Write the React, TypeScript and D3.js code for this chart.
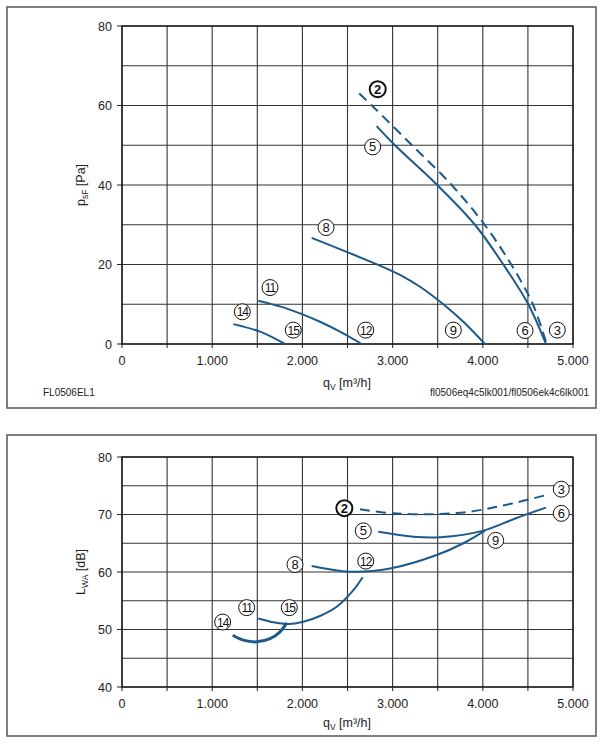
import * as d3 from 'd3';
import React from 'react';

const BLUE = '#1d5a8c';

// volume flow qV [m³/h]
const flowGrid = [0, 500, 1000, 1500, 2000, 2500, 3000, 3500, 4000, 4500, 5000];
const flowTicks = [0, 1000, 2000, 3000, 4000, 5000];
const flowTickLabels = ['0', '1.000', '2.000', '3.000', '4.000', '5.000'];

// static pressure psF [Pa]
const psfGrid = [0, 10, 20, 30, 40, 50, 60, 70, 80];
const psfTicks = [0, 20, 40, 60, 80];

const psf2Flow = [2630, 2770, 3215, 3655, 4020, 4315, 4555, 4708];
const psf2 = [63, 60, 50, 40, 30, 20, 10, 0];
const psf5Flow = [2823, 3026, 3495, 3913, 4227, 4504, 4700];
const psf5 = [54.8, 50, 40, 30, 20, 10, 0];
const psf8Flow = [2103, 2509, 2860, 3082, 3304, 3562, 3784, 4024];
const psf8 = [26.7, 23.0, 19.7, 17.4, 14.4, 10.0, 5.6, 0];
const psf11Flow = [1511, 1760, 1973, 2195, 2417, 2657];
const psf11 = [10.9, 9.4, 7.7, 5.6, 3.1, 0];
const psf14Flow = [1234, 1530, 1807];
const psf14 = [5.0, 3.1, 0];

// operating point markers on the pressure chart
const psfMarkerIds = ['2', '5', '8', '11', '14', '15', '12', '9', '6', '3'];
const psfMarkerFlow = [2835, 2779, 2262, 1641, 1334, 1899, 2702, 3673, 4468, 4826];
const psfMarkerVal = [64.1, 49.6, 29.3, 14.2, 8.1, 3.5, 3.5, 3.5, 3.4, 3.5];

// sound power LWA [dB]
const lwaGrid = [40, 45, 50, 55, 60, 65, 70, 75, 80];
const lwaTicks = [40, 50, 60, 70, 80];

const lwa2Flow = [2638, 3008, 3415, 3858, 4264, 4708];
const lwa2 = [70.9, 70.2, 70.05, 70.5, 71.7, 73.4];
const lwa5Flow = [2842, 3230, 3527, 4006, 4375, 4700];
const lwa5 = [67.0, 66.15, 66.05, 67.2, 69.4, 71.2];
const lwa8Flow = [2103, 2528, 2971, 3489, 3784, 4024];
const lwa8 = [61.05, 60.05, 60.6, 62.95, 65.0, 67.2];
const lwa11Flow = [1511, 1677, 1843, 2010, 2195, 2380, 2565, 2668];
const lwa11 = [51.9, 51.25, 50.95, 51.35, 52.35, 53.95, 56.85, 59.1];
const lwa14Flow = [1227, 1345, 1493, 1641, 1752, 1826];
const lwa14 = [49.0, 48.15, 47.85, 48.4, 49.6, 51.15];

const lwaMarkerIds = ['2', '3', '6', '5', '9', '12', '8', '11', '15', '14'];
const lwaMarkerFlow = [2465, 4870, 4870, 2675, 4143, 2702, 1918, 1382, 1855, 1116];
const lwaMarkerVal = [71.1, 74.4, 70.2, 67.15, 65.5, 61.9, 61.3, 53.8, 53.8, 51.3];

type Curve = { flow: number[]; val: number[]; dashed?: boolean; width?: number };
type Rect = { left: number; right: number; top: number; bottom: number };

function Panel({
  frame,
  plot,
  yDomain,
  yGrid,
  yTicks,
  curves,
  markerIds,
  markerFlow,
  markerVal,
  yTitle,
  titleOffset,
  footnotes,
}: {
  frame: Rect;
  plot: Rect;
  yDomain: [number, number];
  yGrid: number[];
  yTicks: number[];
  curves: Curve[];
  markerIds: string[];
  markerFlow: number[];
  markerVal: number[];
  yTitle: [string, string, string];
  titleOffset: number;
  footnotes?: [string, string];
}) {
  const x = d3.scaleLinear().domain([0, 5000]).range([plot.left, plot.right]);
  const y = d3.scaleLinear().domain(yDomain).range([plot.bottom, plot.top]);
  const line = d3
    .line<[number, number]>()
    .x((d) => x(d[0]))
    .y((d) => y(d[1]))
    .curve(d3.curveCatmullRom.alpha(0.5));
  const yMid = (plot.top + plot.bottom) / 2;

  return (
    <g>
      <rect
        x={frame.left}
        y={frame.top}
        width={frame.right - frame.left}
        height={frame.bottom - frame.top}
        fill="none"
        stroke="#555"
        strokeWidth={1.5}
      />

      {/* grid, with the x ticks poking below the axis */}
      {flowGrid.map((v) => (
        <line key={'gx' + v} x1={x(v)} x2={x(v)} y1={plot.top} y2={plot.bottom + 4} stroke="#333" strokeWidth={1.1} />
      ))}
      {yGrid.map((v) => (
        <line key={'gy' + v} x1={plot.left} x2={plot.right} y1={y(v)} y2={y(v)} stroke="#333" strokeWidth={1.1} />
      ))}
      {yTicks.map((v) => (
        <line key={'ty' + v} x1={plot.left - 5} x2={plot.left} y1={y(v)} y2={y(v)} stroke="#222" strokeWidth={1} />
      ))}
      <rect
        x={plot.left}
        y={plot.top}
        width={plot.right - plot.left}
        height={plot.bottom - plot.top}
        fill="none"
        stroke="#111"
        strokeWidth={1.3}
      />

      {yTicks.map((v) => (
        <text key={'ly' + v} x={plot.left - 10} y={y(v) + 4.5} textAnchor="end" fontSize={12.5} fill="#222">
          {v}
        </text>
      ))}
      {flowTicks.map((v, i) => (
        <text key={'lx' + v} x={x(v)} y={plot.bottom + 21} textAnchor="middle" fontSize={12.5} fill="#222">
          {flowTickLabels[i]}
        </text>
      ))}

      <text x={(plot.left + plot.right) / 2 - 0.5} y={plot.bottom + titleOffset} textAnchor="middle" fontSize={12.5} fill="#222">
        q
        <tspan fontSize={8.5} dy={3}>V</tspan>
        <tspan dy={-3}> [m³/h]</tspan>
      </text>
      <text transform={`translate(85,${yMid}) rotate(-90)`} textAnchor="middle" fontSize={12.5} fill="#222">
        {yTitle[0]}
        <tspan fontSize={8.5} dy={3}>{yTitle[1]}</tspan>
        <tspan dy={-3}>{' ' + yTitle[2]}</tspan>
      </text>

      {curves.map((c, i) => (
        <path
          key={'c' + i}
          d={line(d3.zip(c.flow, c.val) as [number, number][]) || ''}
          fill="none"
          stroke={BLUE}
          strokeWidth={c.width ?? 2}
          strokeDasharray={c.dashed ? '10 6' : undefined}
        />
      ))}

      {markerIds.map((id, i) => {
        const bold = id === '2';
        return (
          <g key={'m' + id} transform={`translate(${x(markerFlow[i])},${y(markerVal[i])})`}>
            <circle r={8} fill="#fff" stroke="#111" strokeWidth={bold ? 2 : 1} />
            <text
              y={4.5}
              textAnchor="middle"
              fontSize={id.length > 1 ? 12 : 13}
              fontWeight={bold ? 'bold' : 'normal'}
              letterSpacing={id.length > 1 ? -1 : 0}
              fill="#111"
            >
              {id}
            </text>
          </g>
        );
      })}

      {footnotes && (
        <g fontSize={10} fill="#222">
          <text x={43} y={frame.bottom - 12}>{footnotes[0]}</text>
          <text x={589} y={frame.bottom - 12} textAnchor="end">{footnotes[1]}</text>
        </g>
      )}
    </g>
  );
}

export default function App() {
  const pressureCurves: Curve[] = [
    { flow: psf2Flow, val: psf2, dashed: true },
    { flow: psf5Flow, val: psf5 },
    { flow: psf8Flow, val: psf8 },
    { flow: psf11Flow, val: psf11 },
    { flow: psf14Flow, val: psf14 },
  ];
  const soundCurves: Curve[] = [
    { flow: lwa2Flow, val: lwa2, dashed: true },
    { flow: lwa5Flow, val: lwa5 },
    { flow: lwa8Flow, val: lwa8 },
    { flow: lwa11Flow, val: lwa11 },
    { flow: lwa14Flow, val: lwa14, width: 3 },
  ];

  return (
    <svg
      width={606}
      height={745}
      style={{ position: 'absolute', left: 0, top: 0, background: '#fff' }}
      fontFamily="'Liberation Sans', Arial, sans-serif"
    >
      <Panel
        frame={{ left: 7, right: 596, top: 7, bottom: 408 }}
        plot={{ left: 122, right: 573, top: 26, bottom: 344 }}
        yDomain={[0, 80]}
        yGrid={psfGrid}
        yTicks={psfTicks}
        curves={pressureCurves}
        markerIds={psfMarkerIds}
        markerFlow={psfMarkerFlow}
        markerVal={psfMarkerVal}
        yTitle={['p', 'sF', '[Pa]']}
        titleOffset={43}
        footnotes={['FL0506EL1', 'fl0506eq4c5lk001/fl0506ek4c6lk001']}
      />
      <Panel
        frame={{ left: 7, right: 596, top: 435, bottom: 736 }}
        plot={{ left: 122, right: 573, top: 457, bottom: 687 }}
        yDomain={[40, 80]}
        yGrid={lwaGrid}
        yTicks={lwaTicks}
        curves={soundCurves}
        markerIds={lwaMarkerIds}
        markerFlow={lwaMarkerFlow}
        markerVal={lwaMarkerVal}
        yTitle={['L', 'WA', '[dB]']}
        titleOffset={40}
      />
    </svg>
  );
}
